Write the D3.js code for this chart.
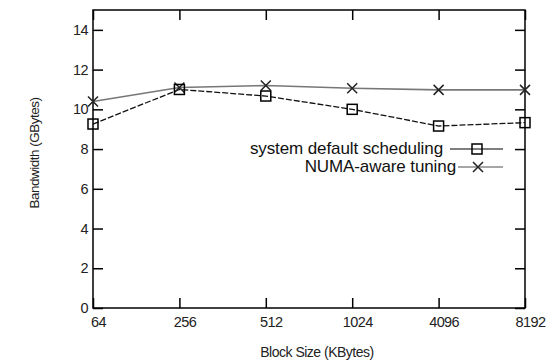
<!DOCTYPE html>
<html>
<head>
<meta charset="utf-8">
<script src="https://cdn.jsdelivr.net/npm/d3@7"></script>
<style>
  body { margin: 0; background: #fff; }
  text { font-family: "Liberation Sans", Arial, sans-serif; }
</style>
</head>
<body>
<div id="chart"></div>
<script>
var blockSizes = ["64", "256", "512", "1024", "4096", "8192"];
var defaultSched = [9.26, 11.0, 10.67, 10.0, 9.16, 9.33];
var numaTuning = [10.39, 11.1, 11.2, 11.06, 10.98, 10.98];
var yTicks = [0, 2, 4, 6, 8, 10, 12, 14];
var seriesNames = ["system default scheduling", "NUMA-aware tuning"];

var width = 555, height = 363;
var margin = {left: 93, right: 30, top: 10, bottom: 55};

var svg = d3.select("#chart").append("svg")
  .attr("width", width)
  .attr("height", height);

var x = d3.scalePoint()
  .domain(blockSizes)
  .range([margin.left, width - margin.right]);

var y = d3.scaleLinear()
  .domain([0, 15])
  .range([height - margin.bottom, margin.top]);

// axes (ticks inward, mirrored)
var bottomAxis = svg.append("g")
  .attr("transform", "translate(0," + (height - margin.bottom) + ")")
  .call(d3.axisBottom(x).tickSizeInner(-10).tickSizeOuter(0).tickPadding(9));
bottomAxis.selectAll("text").attr("dx", 5).style("font-size", "14.5px")
  .style("letter-spacing", "-0.6px").attr("fill", "#222");

svg.append("g")
  .attr("transform", "translate(0," + margin.top + ")")
  .call(d3.axisTop(x).tickSizeInner(-10).tickSizeOuter(0).tickFormat(""));

var leftAxis = svg.append("g")
  .attr("transform", "translate(" + margin.left + ",0)")
  .call(d3.axisLeft(y).tickValues(yTicks).tickSizeInner(-10).tickSizeOuter(0).tickPadding(5));
leftAxis.selectAll("text").style("font-size", "14.5px")
  .style("letter-spacing", "-0.6px").attr("fill", "#222");

svg.append("g")
  .attr("transform", "translate(" + (width - margin.right) + ",0)")
  .call(d3.axisRight(y).tickValues(yTicks).tickSizeInner(-10).tickSizeOuter(0).tickFormat(""));

svg.selectAll(".domain").remove();
svg.selectAll(".tick line").attr("stroke", "#000").attr("stroke-width", 1.5);

svg.append("rect")
  .attr("x", margin.left)
  .attr("y", margin.top)
  .attr("width", width - margin.left - margin.right)
  .attr("height", height - margin.top - margin.bottom)
  .attr("fill", "none")
  .attr("stroke", "#000")
  .attr("stroke-width", 1.5);

// axis titles
svg.append("text")
  .attr("x", 317).attr("y", 357)
  .attr("text-anchor", "middle")
  .style("font-size", "14px")
  .style("letter-spacing", "-0.5px")
  .attr("fill", "#222")
  .text("Block Size (KBytes)");

svg.append("text")
  .attr("transform", "translate(39,153) rotate(-90)")
  .attr("text-anchor", "middle")
  .style("font-size", "13.5px")
  .style("letter-spacing", "-0.5px")
  .attr("fill", "#222")
  .text("Bandwidth (GBytes)");

var line = d3.line()
  .x(function(d, i) { return x(blockSizes[i]); })
  .y(function(d) { return y(d); });

// NUMA-aware series (gray line, X markers)
svg.append("path")
  .datum(numaTuning)
  .attr("d", line)
  .attr("fill", "none")
  .attr("stroke", "#777")
  .attr("stroke-width", 1.6);

// default series (black dashed line, squares)
svg.append("path")
  .datum(defaultSched)
  .attr("d", line)
  .attr("fill", "none")
  .attr("stroke", "#111")
  .attr("stroke-width", 1.3)
  .attr("stroke-dasharray", "6,2");

function crossMark(g, cx, cy) {
  var s = 5;
  g.append("path")
    .attr("d", "M" + (cx - s) + "," + (cy - s) + "L" + (cx + s) + "," + (cy + s) +
               "M" + (cx - s) + "," + (cy + s) + "L" + (cx + s) + "," + (cy - s))
    .attr("stroke", "#222")
    .attr("stroke-width", 1.5)
    .attr("fill", "none");
}
function squareMark(g, cx, cy) {
  g.append("rect")
    .attr("x", cx - 5).attr("y", cy - 5)
    .attr("width", 10).attr("height", 10)
    .attr("fill", "none")
    .attr("stroke", "#000")
    .attr("stroke-width", 1.5);
}

var marks = svg.append("g");
numaTuning.forEach(function(v, i) { crossMark(marks, x(blockSizes[i]), y(v)); });
defaultSched.forEach(function(v, i) { squareMark(marks, x(blockSizes[i]), y(v)); });

// legend
var legend = svg.append("g");
legend.append("text")
  .attr("x", 443).attr("y", 154)
  .attr("text-anchor", "end")
  .style("font-size", "17px")
  .style("letter-spacing", "-0.1px")
  .attr("fill", "#111")
  .text(seriesNames[0]);
legend.append("line")
  .attr("x1", 450).attr("x2", 503).attr("y1", 149).attr("y2", 149)
  .attr("stroke", "#000").attr("stroke-width", 1.2);
squareMark(legend, 477, 149);

legend.append("text")
  .attr("x", 456).attr("y", 172)
  .attr("text-anchor", "end")
  .style("font-size", "17px")
  .style("letter-spacing", "-0.1px")
  .attr("fill", "#111")
  .text(seriesNames[1]);
legend.append("line")
  .attr("x1", 458).attr("x2", 503).attr("y1", 167).attr("y2", 167)
  .attr("stroke", "#888").attr("stroke-width", 1.5);
crossMark(legend, 478, 167);
</script>
</body>
</html>
